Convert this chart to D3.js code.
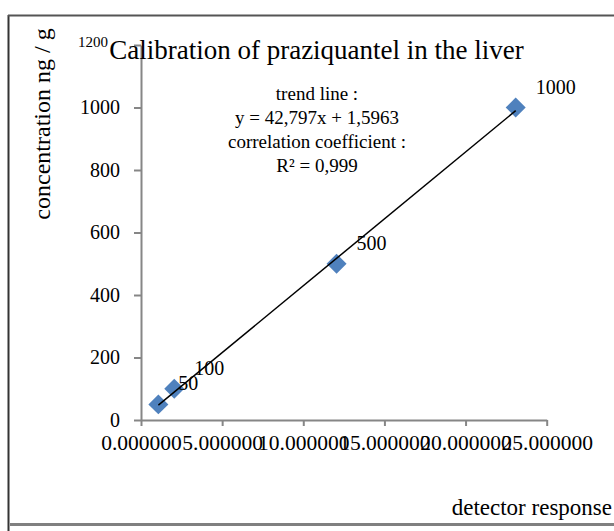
<!DOCTYPE html>
<html>
<head>
<meta charset="utf-8">
<script src="https://cdn.jsdelivr.net/npm/d3@7"></script>
<style>
  body { margin: 0; background: #fff; }
  svg { display: block; font-family: "Liberation Serif", "Times New Roman", serif; }
</style>
</head>
<body>
<div id="chart"></div>
<script>
// values
const detectorResponse = [1.07, 2.05, 12.05, 23.09];
const concentration = [50, 100, 500, 1000];
const pointLabels = ["50", "100", "500", "1000"];
const xTicks = [0, 5, 10, 15, 20, 25];
const yTicks = [0, 200, 400, 600, 800, 1000, 1200];
const trendSlope = 42.797;
const trendIntercept = 1.5963;
const noteLines = ["trend line :", "y = 42,797x + 1,5963", "correlation coefficient :", "R\u00b2 = 0,999"];

const width = 614, height = 531;
const axisColor = "#868686";
const serif = "Liberation Serif, Times New Roman, serif";

const svg = d3.select("#chart").append("svg")
  .attr("width", width)
  .attr("height", height);

// chart frame
svg.append("line").attr("x1", 8.5).attr("x2", 8.5).attr("y1", 15).attr("y2", height)
  .attr("stroke", "#333").attr("stroke-width", 2);
svg.append("line").attr("x1", 8).attr("x2", width).attr("y1", 15.5).attr("y2", 15.5)
  .attr("stroke", "#555").attr("stroke-width", 2);
svg.append("line").attr("x1", 10).attr("x2", width).attr("y1", 524.5).attr("y2", 524.5)
  .attr("stroke", "#808080").attr("stroke-width", 3);

const x = d3.scaleLinear().domain([0, 25]).range([141, 546.7]);
const y = d3.scaleLinear().domain([0, 1200]).range([420, 45]);

// x axis
const xAxis = svg.append("g")
  .attr("transform", `translate(0,${y(0)})`)
  .call(d3.axisBottom(x).tickValues(xTicks).tickFormat(d3.format(".6f")).tickSize(6).tickSizeOuter(0));
xAxis.attr("font-family", serif);
xAxis.select(".domain").attr("stroke", axisColor).attr("stroke-width", 2);
xAxis.selectAll(".tick line").attr("stroke", axisColor).attr("stroke-width", 2);
xAxis.selectAll(".tick text")
  .attr("y", 30).attr("dy", 0)
  .attr("fill", "#000")
  .style("font-size", "21.5px");

// y axis
const yAxis = svg.append("g")
  .attr("transform", `translate(${x(0)},0)`)
  .call(d3.axisLeft(y).tickValues(yTicks).tickFormat(d3.format("d")).tickSize(7).tickSizeOuter(0));
yAxis.attr("font-family", serif);
yAxis.select(".domain").attr("stroke", axisColor).attr("stroke-width", 2);
yAxis.selectAll(".tick line").attr("stroke", axisColor).attr("stroke-width", 2);
yAxis.selectAll(".tick text")
  .attr("x", -21)
  .attr("fill", "#000")
  .style("font-size", "20px");
// the top label is drawn smaller and sits above its tick
yAxis.selectAll(".tick text").filter(d => d === 1200)
  .style("font-size", "15px")
  .attr("x", -33).attr("dy", "0.1em");

const xs = d3.extent(detectorResponse);

// diamond markers
const pts = detectorResponse.map((v, i) => ({ x: v, y: concentration[i], label: pointLabels[i] }));
svg.selectAll(".pt").data(pts).enter()
  .append("path")
  .attr("class", "pt")
  .attr("d", d3.symbol(d3.symbolSquare, 200))
  .attr("transform", d => `translate(${x(d.x)},${y(d.y)}) rotate(45)`)
  .attr("fill", "#4F81BD");

// trend line across the data range, drawn over the markers
svg.append("line")
  .attr("x1", x(xs[0])).attr("y1", y(trendSlope * xs[0] + trendIntercept))
  .attr("x2", x(xs[1])).attr("y2", y(trendSlope * xs[1] + trendIntercept))
  .attr("stroke", "#000").attr("stroke-width", 1.5);

svg.selectAll(".pt-label").data(pts).enter()
  .append("text")
  .attr("class", "pt-label")
  .attr("x", d => x(d.x) + 20)
  .attr("y", d => y(d.y) - 14)
  .style("font-size", "20px")
  .text(d => d.label);

// title
svg.append("text")
  .attr("x", 316.5).attr("y", 59)
  .attr("text-anchor", "middle")
  .style("font-size", "27px")
  .text("Calibration of praziquantel in the liver");

// trend line note
svg.append("g").selectAll("text").data(noteLines).enter()
  .append("text")
  .attr("x", 317)
  .attr("y", (d, i) => 100 + i * 24)
  .attr("text-anchor", "middle")
  .style("font-size", "19px")
  .text(d => d);

// axis titles
svg.append("text")
  .attr("transform", "translate(50,124) rotate(-90)")
  .attr("text-anchor", "middle")
  .style("font-size", "24px")
  .text("concentration ng / g");

svg.append("text")
  .attr("x", 612).attr("y", 515)
  .attr("text-anchor", "end")
  .style("font-size", "23px")
  .text("detector response");
</script>
</body>
</html>
